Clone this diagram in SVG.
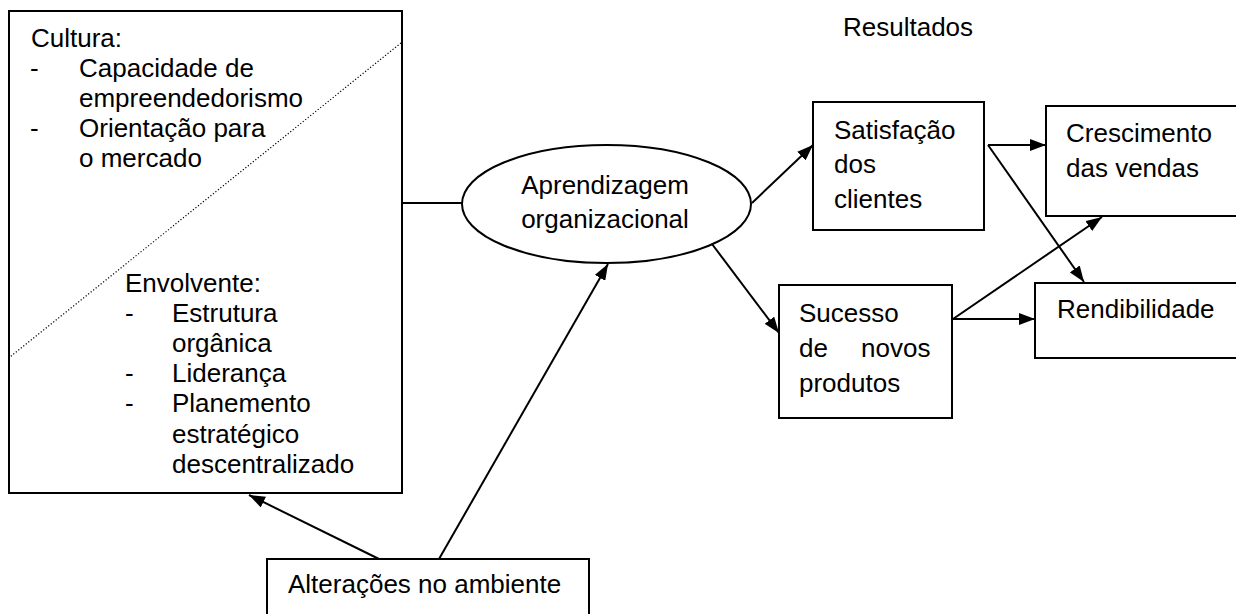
<svg xmlns="http://www.w3.org/2000/svg" width="1236" height="614" viewBox="0 0 1236 614">
<style>
text{font-family:"Liberation Sans",Arial,sans-serif;font-size:26px;fill:#000}
.box{fill:#fff;stroke:#000;stroke-width:2}
.ln{stroke:#000;stroke-width:2;fill:none}
.arr{stroke:#000;stroke-width:2;fill:none;marker-end:url(#ah)}
.dot{stroke:#000;stroke-width:1.2;stroke-dasharray:1.2 2;fill:none}
</style>
<defs>
<marker id="ah" viewBox="0 0 16 12" refX="16" refY="6" markerWidth="16" markerHeight="12" markerUnits="userSpaceOnUse" orient="auto">
<path d="M0,0 L16,6 L0,12 Z" fill="#000"/>
</marker>
</defs>
<g id="factors">
<rect class="box" x="9" y="11" width="393" height="482"/>
<line class="dot" x1="401" y1="43" x2="10" y2="357"/>
<text x="31" y="47">Cultura:</text>
<text x="30" y="77">-</text><text x="79" y="77">Capacidade de</text>
<text x="79" y="107">empreendedorismo</text>
<text x="30" y="137">-</text><text x="79" y="137">Orientação para</text>
<text x="79" y="167">o mercado</text>
<text x="125" y="292">Envolvente:</text>
<text x="125" y="322">-</text><text x="172" y="322">Estrutura</text>
<text x="172" y="352">orgânica</text>
<text x="125" y="382">-</text><text x="172" y="382">Liderança</text>
<text x="125" y="412">-</text><text x="172" y="412">Planemento</text>
<text x="172" y="443">estratégico</text>
<text x="172" y="473">descentralizado</text>
</g>
<g id="aprendizagem">
<ellipse class="box" cx="606.5" cy="204" rx="144.5" ry="59"/>
<text x="605" y="194" text-anchor="middle">Aprendizagem</text>
<text x="605" y="228" text-anchor="middle">organizacional</text>
</g>
<g id="resultados-label">
<text x="843" y="36">Resultados</text>
</g>
<g id="satisfacao">
<rect class="box" x="813" y="102" width="171" height="128"/>
<text x="834" y="139">Satisfação</text>
<text x="834" y="173">dos</text>
<text x="834" y="208">clientes</text>
</g>
<g id="sucesso">
<rect class="box" x="779" y="285" width="173" height="133"/>
<text x="799" y="322">Sucesso</text>
<text x="799" y="357">de</text><text x="861" y="357">novos</text>
<text x="799" y="392">produtos</text>
</g>
<g id="crescimento">
<rect class="box" x="1046" y="106" width="200" height="110"/>
<text x="1066" y="142">Crescimento</text>
<text x="1066" y="177">das vendas</text>
</g>
<g id="rendibilidade">
<rect class="box" x="1035" y="283" width="211" height="75"/>
<text x="1057" y="318">Rendibilidade</text>
</g>
<g id="alteracoes">
<rect class="box" x="267" y="559" width="322" height="70"/>
<text x="288" y="593">Alterações no ambiente</text>
</g>
<g id="connectors">
<line class="ln" x1="402" y1="203" x2="462" y2="203"/>
<line class="arr" x1="752" y1="203" x2="813" y2="145"/>
<line class="arr" x1="712" y1="244" x2="779" y2="333"/>
<line class="arr" x1="988" y1="145" x2="1046" y2="145"/>
<line class="arr" x1="988" y1="145" x2="1084" y2="282"/>
<line class="arr" x1="953" y1="319" x2="1102" y2="217"/>
<line class="arr" x1="953" y1="319" x2="1035" y2="319"/>
<line class="arr" x1="379" y1="559" x2="249" y2="495"/>
<line class="arr" x1="439" y1="559" x2="608" y2="264"/>
</g>
</svg>
